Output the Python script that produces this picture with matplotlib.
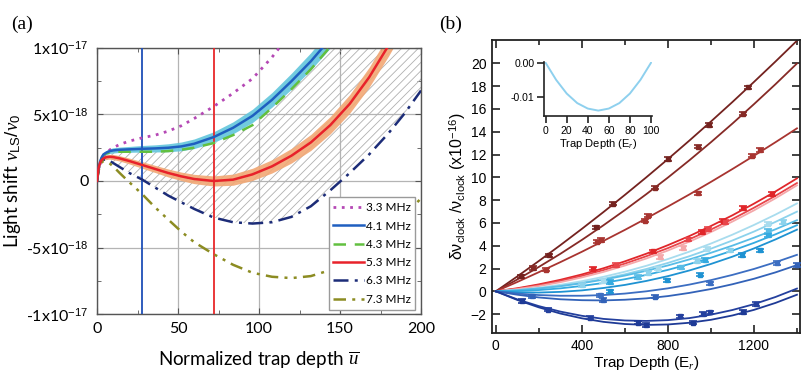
import matplotlib
matplotlib.use('Agg')
import matplotlib.pyplot as plt
from matplotlib.ticker import MultipleLocator

plt.rcParams['mathtext.fontset'] = 'custom'
plt.rcParams['mathtext.rm'] = 'Liberation Sans'
plt.rcParams['mathtext.it'] = 'Liberation Serif:italic'
plt.rcParams['hatch.linewidth'] = 0.6

# ---- panel (a): light shift vs normalized trap depth (units of 1e-18) ----
depth_a = [0, 1, 2, 3, 4, 6, 8, 10, 14, 20, 28, 36, 44, 52, 60, 72, 84, 96,
           108, 120, 132, 144, 156, 168, 180, 190, 200]
shift_33 = [0, 0.8, 1.3, 1.6, 1.8, 2.1, 2.35, 2.5, 2.75, 3.0, 3.25, 3.45, 3.75, 4.15,
            4.7, 5.6, 6.6, 7.7, 9.3, 11.2, 13.4, 15.8, 18.5, 21.5, 24.8, 27.8, 31]
shift_41 = [0, 1.0, 1.5, 1.8, 2.0, 2.15, 2.25, 2.3, 2.35, 2.38, 2.42, 2.45, 2.5, 2.6,
            2.8, 3.3, 4.0, 4.9, 6.1, 7.5, 9.0, 10.7, 12.5, 14.5, 16.7, 18.6, 20.6]
shift_43 = [0, 0.95, 1.45, 1.75, 1.95, 2.1, 2.15, 2.18, 2.2, 2.2, 2.2, 2.2, 2.25, 2.35,
            2.5, 2.85, 3.45, 4.2, 5.5, 6.9, 8.4, 10.1, 12.0, 14.0, 16.2, 18.1, 20.1]
shift_53 = [0, 1.0, 1.4, 1.6, 1.7, 1.8, 1.82, 1.8, 1.7, 1.5, 1.2, 0.9, 0.6, 0.35,
            0.15, 0.0, 0.1, 0.5, 1.1, 1.9, 2.9, 4.2, 5.8, 7.8, 10.2, 12.4, 14.8]
shift_63 = [0, 0.9, 1.3, 1.5, 1.6, 1.6, 1.5, 1.35, 1.05, 0.6, 0.1, -0.5, -1.1, -1.6,
            -2.1, -2.75, -3.1, -3.2, -3.1, -2.7, -1.9, -0.7, 0.6, 2.0, 3.6, 5.1, 6.8]
shift_73 = [0, 0.8, 1.2, 1.4, 1.5, 1.45, 1.3, 1.1, 0.6, -0.1, -1.0, -2.0, -2.9, -3.8,
            -4.6, -5.5, -6.3, -6.9, -7.2, -7.3, -7.15, -6.7, -6.0, -5.0, -3.8, -2.6, -1.3]
band_41 = [0, 0.1, 0.12, 0.14, 0.15, 0.17, 0.18, 0.2, 0.2, 0.22, 0.25, 0.27, 0.3, 0.33,
           0.36, 0.4, 0.45, 0.5, 0.55, 0.6, 0.65, 0.7, 0.75, 0.8, 0.85, 0.9, 0.95]
band_53 = [0, 0.1, 0.12, 0.14, 0.15, 0.17, 0.18, 0.2, 0.2, 0.22, 0.25, 0.27, 0.3, 0.32,
           0.35, 0.38, 0.42, 0.46, 0.5, 0.55, 0.6, 0.65, 0.7, 0.75, 0.8, 0.85, 0.9]
magic_depths = [28, 72]
labels_a = ['3.3 MHz', '4.1 MHz', '4.3 MHz', '5.3 MHz', '6.3 MHz', '7.3 MHz']
yticks_a = [-10, -5, 0, 5, 10]
ytick_labels_a = ['-1x10$^{-17}$', '-5x10$^{-18}$', '0', '5x10$^{-18}$', '1x10$^{-17}$']

# ---- panel (b): clock shift vs trap depth (units of 1e-16) ----
depth_fit = [0, 100, 200, 300, 400, 500, 600, 700, 800, 900, 1000, 1100, 1200, 1300, 1400]
fit_lines = [
    [0, 1.31, 2.66, 4.05, 5.48, 6.95, 8.46, 10.01, 11.60, 13.23, 14.90, 16.61, 18.37, 20.16, 21.99],
    [0, 1.04, 2.14, 3.29, 4.51, 5.79, 7.13, 8.53, 9.98, 11.50, 13.08, 14.72, 16.42, 18.17, 19.99],
    [0, 0.82, 1.68, 2.56, 3.47, 4.42, 5.39, 6.40, 7.44, 8.50, 9.60, 10.73, 11.89, 13.08, 14.30],
    [0, 0.27, 0.61, 1.01, 1.48, 2.02, 2.63, 3.30, 4.05, 4.85, 5.73, 6.67, 7.69, 8.76, 9.91],
    [0, 0.23, 0.54, 0.91, 1.35, 1.86, 2.43, 3.08, 3.79, 4.57, 5.42, 6.34, 7.33, 8.38, 9.50],
    [0, 0.20, 0.46, 0.80, 1.22, 1.70, 2.26, 2.88, 3.58, 4.36, 5.20, 6.12, 7.10, 8.16, 9.30],
    [0, 0.12, 0.31, 0.57, 0.89, 1.27, 1.72, 2.24, 2.83, 3.48, 4.19, 4.97, 5.82, 6.73, 7.71],
    [0, 0.09, 0.25, 0.46, 0.74, 1.09, 1.49, 1.96, 2.49, 3.08, 3.74, 4.46, 5.24, 6.09, 6.99],
    [0, 0.10, 0.25, 0.45, 0.71, 1.02, 1.38, 1.80, 2.27, 2.80, 3.38, 4.01, 4.70, 5.44, 6.24],
    [0, 0.03, 0.11, 0.26, 0.47, 0.73, 1.06, 1.44, 1.88, 2.39, 2.95, 3.57, 4.25, 5.00, 5.80],
    [0, -0.09, -0.11, -0.05, 0.08, 0.29, 0.56, 0.91, 1.33, 1.83, 2.40, 3.04, 3.76, 4.55, 5.41],
    [0, -0.20, -0.33, -0.39, -0.39, -0.33, -0.20, 0.00, 0.26, 0.59, 0.98, 1.44, 1.96, 2.55, 3.20],
    [0, -0.30, -0.54, -0.70, -0.78, -0.80, -0.74, -0.62, -0.42, -0.14, 0.20, 0.62, 1.10, 1.66, 2.30],
    [0, -0.71, -1.30, -1.78, -2.15, -2.42, -2.56, -2.60, -2.53, -2.35, -2.05, -1.64, -1.13, -0.50, 0.24],
    [0, -0.76, -1.41, -1.95, -2.37, -2.68, -2.87, -2.95, -2.91, -2.76, -2.50, -2.12, -1.63, -1.02, -0.30],
]
meas_x = [
    [115, 246, 468, 546, 801, 992, 1174],
    [174, 740, 941, 1150],
    [231, 470, 490, 693, 708, 941, 1189, 1228],
    [453, 732, 957, 1057, 1150, 1282],
    [560, 895, 987, 1065],
    [763, 871],
    [500, 755, 980, 1267],
    [399, 708, 933, 1088, 1337],
    [662, 860, 1267],
    [530, 972, 1267],
    [530, 794, 949, 1143, 1228],
    [484, 995, 1306],
    [170, 499, 740, 1398],
    [243, 437, 856, 964, 995, 1211],
    [120, 662, 700, 918, 1150],
]
meas_y = [
    [1.3, 3.15, 5.6, 7.7, 11.6, 14.6, 17.9],
    [2.05, 9.1, 12.7, 15.6],
    [1.9, 4.35, 4.5, 6.2, 6.65, 8.6, 11.9, 12.4],
    [2.0, 3.5, 5.2, 6.2, 7.3, 8.55],
    [2.3, 4.55, 5.45, 6.1],
    [3.0, 3.8],
    [0.9, 2.0, 3.75, 5.95],
    [0.55, 1.6, 2.65, 3.6, 6.1],
    [1.25, 2.1, 5.3],
    [0.8, 2.75, 4.9],
    [0.0, 0.95, 1.45, 3.2, 3.6],
    [-0.35, 0.7, 2.5],
    [-0.45, -0.75, -0.47, 2.3],
    [-1.6, -2.3, -2.2, -2.0, -1.85, -1.1],
    [-0.85, -2.75, -2.95, -2.75, -1.8],
]
line_colors_b = ['#74221f', '#862a26', '#a83430', '#e0262a', '#e8454a', '#f4a8aa',
                 '#a8dcee', '#8cd2ec', '#58bce6', '#34aae0', '#1e92d2',
                 '#3c6ec2', '#3262b8', '#24409e', '#1e3a96']

inset_x = [0, 10, 20, 30, 40, 50, 60, 70, 80, 90, 100]
inset_y = [0, -0.0050, -0.0090, -0.0118, -0.0134, -0.0140, -0.0134, -0.0118, -0.0090, -0.0050, 0]

fig = plt.figure(figsize=(8.01, 3.72), dpi=100)
fig.patch.set_facecolor('white')

# ================= panel (a) =================
ax = fig.add_axes([0.1211, 0.1559, 0.4045, 0.7151])
fa = 'Lato'
ax.fill_between(depth_a, shift_63, shift_43, facecolor='none', edgecolor='#b0b0b0',
                hatch='////', linewidth=0, zorder=1)
lo41 = [v - w for v, w in zip(shift_41, band_41)]
hi41 = [v + w for v, w in zip(shift_41, band_41)]
lo53 = [v - w for v, w in zip(shift_53, band_53)]
hi53 = [v + w for v, w in zip(shift_53, band_53)]
ax.fill_between(depth_a, lo41, hi41, color='#62c6dc', lw=0, alpha=0.9, zorder=2)
ax.fill_between(depth_a, lo53, hi53, color='#f2a874', lw=0, alpha=0.9, zorder=2)

ax.axvline(magic_depths[0], color='#1f4fb8', lw=1.3, zorder=3)
ax.axvline(magic_depths[1], color='#e8282a', lw=1.3, zorder=3)

ax.plot(depth_a, shift_33, color='#b548b5', lw=2.0, ls=(0, (1, 2)), label=labels_a[0], zorder=4)
ax.plot(depth_a, shift_41, color='#1f5fc0', lw=1.8, label=labels_a[1], zorder=5)
ax.plot(depth_a, shift_43, color='#62c040', lw=1.8, ls=(0, (5, 3.5)), label=labels_a[2], zorder=4)
ax.plot(depth_a, shift_53, color='#e8222a', lw=1.8, label=labels_a[3], zorder=5)
ax.plot(depth_a, shift_63, color='#1c2c78', lw=1.8, ls=(0, (6, 2.5, 1.2, 2.5)), label=labels_a[4], zorder=4)
ax.plot(depth_a, shift_73, color='#8c8c22', lw=1.8, ls=(0, (5, 2.5, 1.2, 2.5, 1.2, 2.5)),
        label=labels_a[5], zorder=4)

ax.set_xlim(0, 200)
ax.set_ylim(-10, 10)
ax.set_xticks([0, 50, 100, 150, 200])
ax.set_yticks(yticks_a)
ax.set_yticklabels(ytick_labels_a)
ax.xaxis.set_minor_locator(MultipleLocator(25))
ax.yaxis.set_minor_locator(MultipleLocator(2.5))
ax.grid(True, which='major', color='#b4b4b4', lw=0.9, zorder=0)
ax.set_axisbelow(True)
ax.tick_params(which='both', direction='in', top=True, right=True, color='#555555')
ax.tick_params(which='major', length=4, labelsize=11.5, pad=6)
ax.tick_params(which='minor', length=3)
for lab in ax.get_xticklabels() + ax.get_yticklabels():
    lab.set_family(fa)
for s in ax.spines.values():
    s.set_color('#555555')
    s.set_linewidth(1.0)
ax.set_xlabel('Normalized trap depth $\\overline{u}$', fontsize=13.5, family=fa, labelpad=9)
ax.set_ylabel('Light shift $\\nu_{\\rm LS}/\\nu_0$', fontsize=13.5, family=fa, labelpad=2)
leg = ax.legend(loc='lower right', bbox_to_anchor=(0.99, 0.008),
                handlelength=2.6, handletextpad=0.15, labelspacing=0.62, borderpad=0.4,
                borderaxespad=0.2, fancybox=False, framealpha=1, edgecolor='#9a9a9a',
                prop={'family': fa, 'size': 8.5})
leg.get_frame().set_linewidth(1.0)

fig.text(0.028, 0.935, '(a)', fontsize=14, family='Liberation Serif', ha='center', va='center')
fig.text(0.562, 0.935, '(b)', fontsize=14, family='Liberation Serif', ha='center', va='center')

# ================= panel (b) =================
fb = 'Liberation Sans'
bx = fig.add_axes([0.6142, 0.1048, 0.3845, 0.7876])
for ys, xs_m, ys_m, c in zip(fit_lines, meas_x, meas_y, line_colors_b):
    bx.plot(depth_fit, ys, color=c, lw=1.3, zorder=2)
    bx.errorbar(xs_m, ys_m, yerr=0.15, fmt='s', ms=2.5, color=c, ecolor=c,
                elinewidth=1.2, capsize=3, capthick=1.2, zorder=3)
bx.set_xlim(-18, 1414)
bx.set_ylim(-3.66, 22.05)
bx.set_xticks([0, 400, 800, 1200])
bx.xaxis.set_minor_locator(MultipleLocator(200))
bx.set_yticks(list(range(-2, 21, 2)))
bx.tick_params(which='both', direction='in', top=True, right=True, width=1.2, color='#222222')
bx.tick_params(which='major', length=6, labelsize=10, pad=4)
bx.tick_params(which='minor', length=3.5)
for lab in bx.get_xticklabels() + bx.get_yticklabels():
    lab.set_family(fb)
for s in bx.spines.values():
    s.set_linewidth(1.3)
    s.set_color('#222222')
bx.set_xlabel('Trap Depth (E$_r$)', fontsize=11, family=fb, labelpad=1)
bx.set_ylabel('\u03b4\u03bd$_{\\rm clock}$ /\u03bd$_{\\rm clock}$ (x10$^{-16}$)',
              fontsize=11.5, family=fb, labelpad=2)

# inset
ix = fig.add_axes([0.6792, 0.688, 0.1348, 0.145])
ix.plot(inset_x, inset_y, color='#8ed0ee', lw=1.4)
ix.set_xlim(-1.5, 101)
ix.set_ylim(-0.0156, 0.0002)
ix.set_xticks([0, 20, 40, 60, 80, 100])
ix.set_yticks([0.0, -0.01])
ix.set_yticklabels(['0.00', '-0.01'])
ix.spines['top'].set_visible(False)
ix.spines['right'].set_visible(False)
for s in ['left', 'bottom']:
    ix.spines[s].set_linewidth(1.2)
    ix.spines[s].set_color('#222222')
ix.tick_params(direction='out', length=5, width=1.2, labelsize=7.5, pad=2, color='#222222')
for lab in ix.get_xticklabels() + ix.get_yticklabels():
    lab.set_family(fb)
ix.set_xlabel('Trap Depth (E$_r$)', fontsize=8, family=fb, labelpad=1)
ix.patch.set_alpha(0)

fig.savefig('out.png', dpi=100, facecolor='white')
